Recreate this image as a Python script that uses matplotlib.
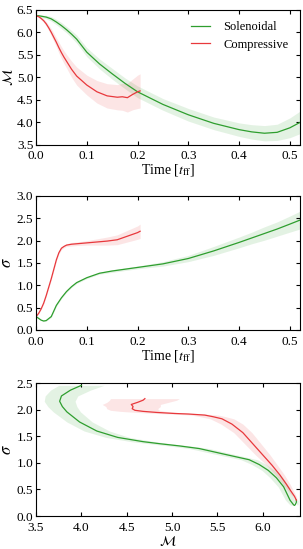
import numpy as np
import matplotlib
matplotlib.use('Agg')
import matplotlib.pyplot as plt

plt.rcParams['font.family'] = ['Liberation Serif', 'DejaVu Serif']
plt.rcParams['mathtext.fontset'] = 'stix'
plt.rcParams['font.size'] = 10

# Solenoidal run
t_sol = [0.0, 0.005, 0.01, 0.015, 0.02, 0.03, 0.04, 0.05, 0.06, 0.07, 0.08, 0.1,
         0.125, 0.15, 0.175, 0.2, 0.25, 0.3, 0.35, 0.4, 0.425, 0.45, 0.475, 0.5, 0.52]
mach_sol = [6.37, 6.37, 6.36, 6.35, 6.34, 6.30, 6.23, 6.15, 6.06, 5.96, 5.85, 5.56,
            5.30, 5.08, 4.87, 4.68, 4.40, 4.17, 3.98, 3.84, 3.79, 3.76, 3.78, 3.88, 4.00]
dmach_sol = [0.02, 0.02, 0.03, 0.03, 0.04, 0.05, 0.06, 0.07, 0.07, 0.08, 0.09, 0.10,
             0.11, 0.12, 0.12, 0.13, 0.13, 0.14, 0.14, 0.15, 0.16, 0.17, 0.18, 0.22, 0.25]
sig_sol = [0.30, 0.26, 0.22, 0.20, 0.21, 0.30, 0.55, 0.72, 0.86, 0.97, 1.06, 1.17,
           1.27, 1.32, 1.36, 1.40, 1.48, 1.60, 1.77, 1.96, 2.06, 2.16, 2.26, 2.37, 2.46]
dsig_sol = [0.01, 0.01, 0.01, 0.01, 0.01, 0.02, 0.02, 0.02, 0.02, 0.02, 0.02, 0.02,
            0.02, 0.03, 0.03, 0.03, 0.05, 0.07, 0.10, 0.12, 0.13, 0.15, 0.16, 0.18, 0.20]

# Compressive run
t_comp = [0.0, 0.005, 0.01, 0.015, 0.02, 0.025, 0.03, 0.035, 0.04, 0.045, 0.05, 0.055,
          0.06, 0.07, 0.08, 0.1, 0.12, 0.14, 0.16, 0.17, 0.18, 0.19, 0.2, 0.205]
mach_comp = [6.37, 6.35, 6.31, 6.26, 6.19, 6.10, 6.00, 5.89, 5.78, 5.66, 5.55, 5.45,
             5.36, 5.18, 5.03, 4.83, 4.68, 4.59, 4.56, 4.57, 4.55, 4.62, 4.68, 4.70]
dmach_comp = [0.01, 0.02, 0.03, 0.04, 0.05, 0.06, 0.08, 0.09, 0.10, 0.12, 0.13, 0.14,
              0.15, 0.18, 0.20, 0.22, 0.25, 0.27, 0.28, 0.30, 0.32, 0.34, 0.37, 0.38]
sig_comp = [0.30, 0.37, 0.47, 0.60, 0.77, 0.96, 1.15, 1.36, 1.57, 1.73, 1.83, 1.87,
            1.90, 1.92, 1.93, 1.95, 1.97, 1.99, 2.02, 2.06, 2.10, 2.14, 2.18, 2.21]
dsig_comp = [0.01, 0.01, 0.01, 0.02, 0.02, 0.02, 0.03, 0.03, 0.03, 0.03, 0.03, 0.03,
             0.03, 0.04, 0.04, 0.05, 0.07, 0.09, 0.11, 0.12, 0.13, 0.14, 0.15, 0.16]

green = '#2e9e2e'
red = '#e8383c'

fig = plt.figure(figsize=(3.03, 5.49), dpi=100)
ax1 = fig.add_axes([0.119, 0.736, 0.871, 0.246])
ax2 = fig.add_axes([0.119, 0.399, 0.871, 0.244])
ax3 = fig.add_axes([0.119, 0.060, 0.871, 0.242])

runs = [
    ('Solenoidal', green, t_sol, mach_sol, dmach_sol, sig_sol, dsig_sol),
    ('Compressive', red, t_comp, mach_comp, dmach_comp, sig_comp, dsig_comp),
]

for name, c, t, m, dm, s, ds in runs:
    t = np.array(t); m = np.array(m); dm = np.array(dm)
    s = np.array(s); ds = np.array(ds)
    ax1.fill_between(t, m - dm, m + dm, color=c, alpha=0.13, lw=0)
    ax1.plot(t, m, color=c, lw=0.9, label=name)
    ax2.fill_between(t, s - ds, s + ds, color=c, alpha=0.13, lw=0)
    ax2.plot(t, s, color=c, lw=0.9)
    ax3.fill_betweenx(s, m - dm, m + dm, color=c, alpha=0.13, lw=0)
    ax3.plot(m, s, color=c, lw=0.9)

ax1.set_xlim(0, 0.52)
ax1.set_ylim(3.5, 6.5)
ax1.set_yticks(np.arange(3.5, 6.51, 0.5))
ax1.set_xticks(np.arange(0, 0.51, 0.1))
ax1.set_ylabel(r'$\mathcal{M}$', labelpad=1)
ax1.set_xlabel(r'Time [$t_{\rm ff}$]', labelpad=0)
ax1.legend(loc='upper right', frameon=False, fontsize=9, handlelength=1.5,
           handletextpad=1.1, borderaxespad=0.5, labelspacing=0.45)

ax2.set_xlim(0, 0.52)
ax2.set_ylim(0, 3.0)
ax2.set_yticks(np.arange(0, 3.01, 0.5))
ax2.set_xticks(np.arange(0, 0.51, 0.1))
ax2.set_ylabel(r'$\sigma$', fontsize=12, labelpad=1)
ax2.set_xlabel(r'Time [$t_{\rm ff}$]', labelpad=0)

ax3.set_xlim(3.5, 6.41)
ax3.set_ylim(0, 2.5)
ax3.set_yticks(np.arange(0, 2.51, 0.5))
ax3.set_xticks(np.arange(3.5, 6.01, 0.5))
ax3.set_ylabel(r'$\sigma$', fontsize=12, labelpad=1)
ax3.set_xlabel(r'$\mathcal{M}$', labelpad=0)

for ax in (ax1, ax2, ax3):
    ax.tick_params(direction='in', top=True, right=True, length=3, width=0.8,
                   labelsize=9.5, pad=2)
    ax.tick_params(axis='x', pad=4)
    for sp in ax.spines.values():
        sp.set_linewidth(0.8)
    ax.yaxis.set_major_formatter(matplotlib.ticker.FormatStrFormatter('%.1f'))
    ax.xaxis.set_major_formatter(matplotlib.ticker.FormatStrFormatter('%.1f'))

fig.savefig('out.png', dpi=100)
